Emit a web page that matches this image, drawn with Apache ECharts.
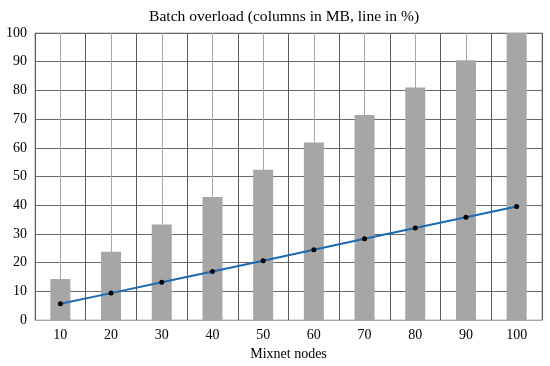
<!DOCTYPE html>
<html><head><meta charset="utf-8">
<script src="https://cdn.jsdelivr.net/npm/echarts@6/dist/echarts.min.js"></script>
<style>html,body{margin:0;padding:0;background:#fff}#c{width:550px;height:366px}</style>
</head><body><div id="c"></div>
<script>
const nodes = [10, 20, 30, 40, 50, 60, 70, 80, 90, 100];
const overloadMB = [14.3, 23.8, 33.3, 42.9, 52.4, 61.9, 71.4, 81.0, 90.5, 100];
const overloadPct = [5.7, 9.4, 13.2, 16.9, 20.7, 24.5, 28.3, 32.1, 35.8, 39.6];
const yTicks = [0, 10, 20, 30, 40, 50, 60, 70, 80, 90, 100];

const font = 'Liberation Serif, Times New Roman, serif';
const chart = echarts.init(document.getElementById('c'), null, {renderer: 'canvas'});
chart.setOption({
  animation: false,
  backgroundColor: '#fff',
  title: {
    text: 'Batch overload (columns in MB, line in %)',
    left: 144, top: 4,
    textStyle: {fontFamily: font, fontSize: 15.6, fontWeight: 'normal', color: '#000'}
  },
  grid: {left: 35, right: 8, top: 33, bottom: 42, show: true, borderColor: '#a8a8a8', borderWidth: 1},
  xAxis: {
    type: 'value', min: 5, max: 105, interval: 5,
    name: 'Mixnet nodes', nameLocation: 'middle', nameGap: 25,
    nameTextStyle: {fontFamily: font, fontSize: 14, color: '#000'},
    axisLine: {show: true, lineStyle: {color: '#a8a8a8'}},
    axisTick: {show: false},
    axisLabel: {
      fontFamily: font, fontSize: 14, color: '#000', margin: 8,
      formatter: v => (nodes.indexOf(v) >= 0 ? String(v) : '')
    },
    splitLine: {show: true, lineStyle: {color: ['#5a5a5a', '#a8a8a8'], width: 1}}
  },
  yAxis: {
    type: 'value', min: 0, max: 100, interval: 10,
    axisLine: {show: false}, axisTick: {show: false},
    axisLabel: {fontFamily: font, fontSize: 14, color: '#000', margin: 8,
      formatter: v => (yTicks.indexOf(v) >= 0 ? String(v) : '')},
    splitLine: {show: true, lineStyle: {color: '#6a6a6a', width: 1}}
  },
  series: [
    {
      type: 'bar', barWidth: 20,
      itemStyle: {color: '#a6a6a6'},
      data: nodes.map((n, i) => [n, overloadMB[i]]),
      z: 2
    },
    {
      type: 'line',
      data: nodes.map((n, i) => [n, overloadPct[i]]),
      lineStyle: {color: '#1c6ab0', width: 2},
      symbol: 'circle', symbolSize: 5,
      itemStyle: {color: '#000', borderWidth: 0},
      z: 3
    }
  ]
});
</script></body></html>
